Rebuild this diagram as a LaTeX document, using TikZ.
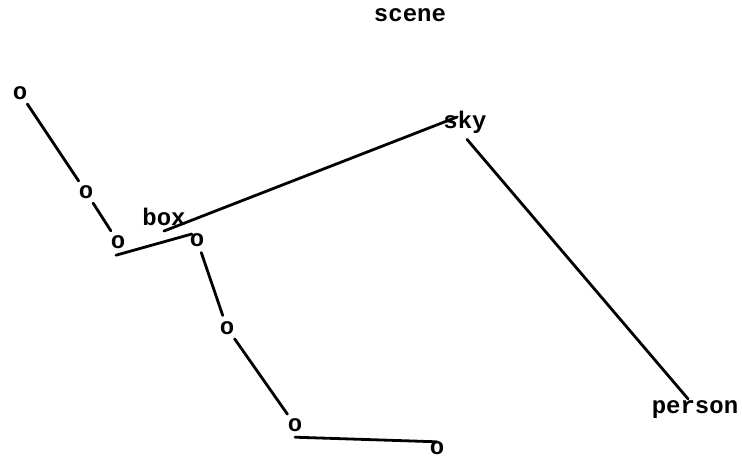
\documentclass[tikz,border=0pt]{standalone}
\usepackage{fontspec}
\setmonofont{Liberation Mono}
\usetikzlibrary{calc}
\tikzset{
  lbl/.style={font=\ttfamily\bfseries\fontsize{24}{24}\selectfont, inner sep=0pt},
  onode/.style={lbl, circle, minimum size=26pt},
  edge/.style={line width=2.8pt, line cap=round}
}
\begin{document}
\begin{tikzpicture}[x=1pt,y=-1pt]
\useasboundingbox (0,0) rectangle (742,458);
\node[lbl] (scene) at (410,15) {scene};
\node[onode] (o1) at (20,93) {o};
\node[onode] (o2) at (86,192) {o};
\node[onode] (o3) at (118,242) {o};
\node[onode] (o4) at (197,240) {o};
\node[onode] (o5) at (227,328) {o};
\node[onode] (o6) at (295,425) {o};
\node[onode] (o7) at (437,448) {o};
\node[lbl] (box) at (164,217) {box};
\node[lbl] (sky) at (465,122) {sky};
\node[lbl] (person) at (695,410) {person};
\draw[edge] (o1) -- (o2);
\draw[edge] (o2) -- (o3);
\draw[edge] ($(o3.south)+(-2,0)$) -- ($(o4.west)+(8,-6)$);
\draw[edge] ($(box.south)+(0,5)$) -- ($(sky.west)+(14,-5)$);
\draw[edge] ($(sky.south)+(2,6)$) -- ($(person.north)+(-7,-2)$);
\draw[edge] (o4) -- (o5);
\draw[edge] (o5) -- (o6);
\draw[edge] ($(o6.south)+(0,-1)$) -- ($(o7.north)+(0,7)$);
\end{tikzpicture}
\end{document}
